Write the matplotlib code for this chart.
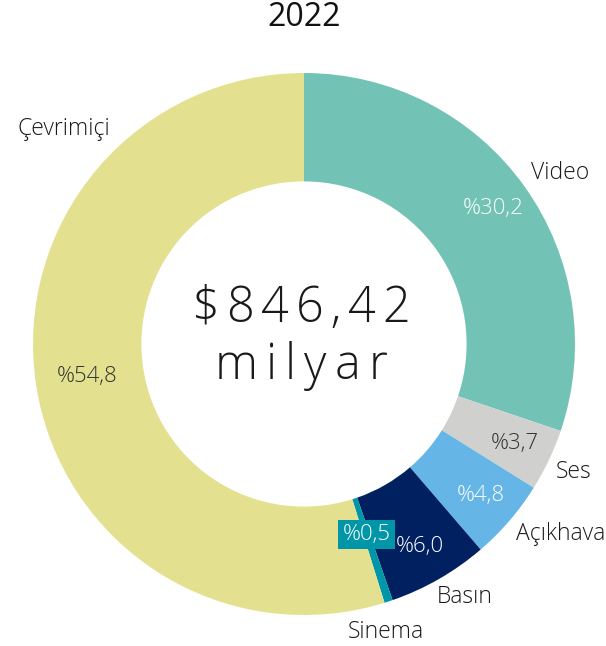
import numpy as np
import matplotlib.pyplot as plt

plt.rcParams['font.family'] = ['Open Sans', 'DejaVu Sans']

categories = ['Video', 'Ses', 'Açıkhava', 'Basın', 'Sinema', 'Çevrimiçi']
shares = [30.2, 3.7, 4.8, 6.0, 0.5, 54.8]
colors = ['#72c3b5', '#d0d0ce', '#65b5e6', '#00205f', '#0096a8', '#e3e190']
pct_colors = ['white', '#333333', 'white', 'white', 'white', '#333333']
title = '2022'
total_lines = ['$846,42', 'milyar']

W, H = 606, 646
cx, cy, R = 304, 344, 271

fig = plt.figure(figsize=(W / 100, H / 100), dpi=100)
ax = fig.add_axes([(cx - R) / W, (H - cy - R) / H, 2 * R / W, 2 * R / H])

wedges, texts, autotexts = ax.pie(
    shares, colors=colors, labels=categories, startangle=90, counterclock=False,
    radius=1, labeldistance=1.03, pctdistance=0.86,
    autopct=lambda p: '%' + f'{p:.1f}'.replace('.', ','),
    wedgeprops=dict(width=0.4, linewidth=0),
    textprops=dict(fontsize=16.5, fontweight='light', color='#1a1a1a'))

for t, c in zip(autotexts, pct_colors):
    t.set_color(c)
    t.set_fontsize(16)

# push outer labels a little away from the horizontal axis
for t in texts:
    x, y = t.get_position()
    t.set_position((x, y + 0.03 * np.sign(y)))

# Basın sits a bit further round
bas = categories.index('Basın')
x, y = texts[bas].get_position()
texts[bas].set_position((x - 0.025, y - 0.01))

# Sinema: small slice, label boxed and pulled inward
sin = categories.index('Sinema')
ang = np.deg2rad(90 - 360 * (sum(shares[:sin]) + shares[sin] / 2) / 100)
autotexts[sin].set_position((0.74 * np.cos(ang), 0.74 * np.sin(ang)))
autotexts[sin].set_bbox(dict(boxstyle='square,pad=0.2', fc='#0096a8', ec='none'))
autotexts[sin].set_zorder(5)
texts[sin].set_position((1.08 * np.cos(ang) - 0.035, -(632 - cy) / R))
texts[sin].set_ha('center')

# Çevrimiçi label sits at upper left, its percentage a bit inward
cev = categories.index('Çevrimiçi')
a2 = np.deg2rad(90 + 42)
texts[cev].set_position((1.07 * np.cos(a2), 1.07 * np.sin(a2)))
a3 = np.deg2rad(90 - 360 * (sum(shares[:cev]) + shares[cev] / 2) / 100)
autotexts[cev].set_position((0.81 * np.cos(a3), 0.81 * np.sin(a3)))

ax.set_xlim(-1, 1)
ax.set_ylim(-1, 1)
ax.set_aspect('equal')
ax.axis('off')

fig.text(cx / W, 1 - 18 / H, title, ha='center', va='center', fontsize=23, color='#111111')

# centre text with letter spacing
fig.canvas.draw()
renderer = fig.canvas.get_renderer()
for line, ypix, track in [(total_lines[0], 309, 7), (total_lines[1], 366, 8)]:
    widths = []
    for ch in line:
        t = fig.text(0, 0, ch, fontsize=35, fontweight='light')
        widths.append(t.get_window_extent(renderer).width)
        t.remove()
    total = sum(widths) + track * (len(line) - 1)
    x = cx - 3 - total / 2
    for ch, w in zip(line, widths):
        fig.text(x / W, 1 - ypix / H, ch, fontsize=35, fontweight='light',
                 ha='left', va='center', color='#1a1a1a')
        x += w + track

fig.savefig('out.png', dpi=100)
